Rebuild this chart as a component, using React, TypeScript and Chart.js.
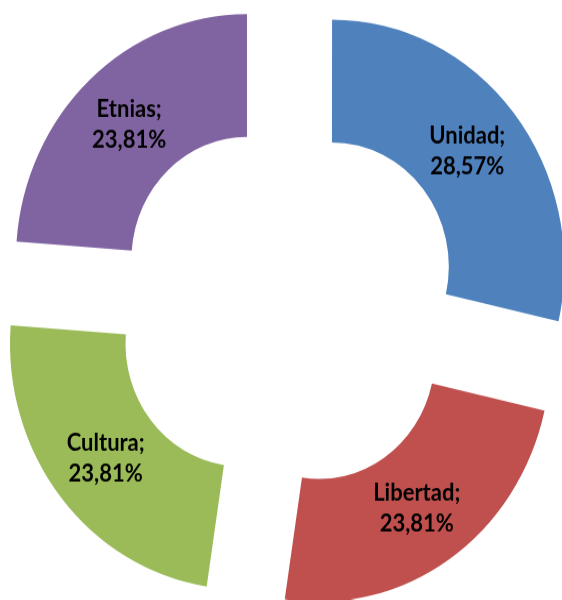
import React, { useEffect, useRef } from 'react';
import { Chart, registerables } from 'chart.js';

Chart.register(...registerables);

const categories = ['Unidad', 'Libertad', 'Cultura', 'Etnias'];
const percentages = [28.57, 23.81, 23.81, 23.81];
const colors = ['#4F81BD', '#C0504D', '#9BBB59', '#8064A2'];

const STRETCH_Y = 1.063;
const CANVAS_W = 562;
const CANVAS_H = 564;

const sliceLabels = {
  id: 'sliceLabels',
  afterDatasetsDraw(chart: any) {
    const ctx = chart.ctx;
    const meta = chart.getDatasetMeta(0);
    ctx.save();
    ctx.font = 'bold 22px Lato';
    ctx.fillStyle = '#000000';
    ctx.textAlign = 'center';
    ctx.textBaseline = 'middle';
    meta.data.forEach((arc: any, i: number) => {
      const p = arc.getProps(['x', 'y', 'startAngle', 'endAngle', 'innerRadius', 'outerRadius'], true);
      const off = (arc.options.offset || 0) / 4;
      const mid = (p.startAngle + p.endAngle) / 2;
      const r = (p.innerRadius + p.outerRadius) / 2 + off;
      const lx = p.x + Math.cos(mid) * r;
      const ly = p.y + Math.sin(mid) * r;
      const lh = 29;
      ctx.fillText(categories[i] + ';', lx, ly - lh / 2);
      ctx.fillText(percentages[i].toFixed(2).replace('.', ',') + '%', lx, ly + lh / 2);
    });
    ctx.restore();
  },
};

export default function App() {
  const ref = useRef<HTMLCanvasElement | null>(null);

  useEffect(() => {
    if (!ref.current) return;
    const chart = new Chart(ref.current, {
      type: 'doughnut',
      data: {
        labels: categories,
        datasets: [
          {
            data: percentages,
            backgroundColor: colors,
            borderWidth: 0,
            offset: 232,
          },
        ],
      },
      options: {
        responsive: false,
        animation: false,
        events: [],
        cutout: '50%',
        radius: 231,
        layout: { padding: { left: 11, top: 10, right: 0, bottom: 0 } },
        plugins: {
          legend: { display: false },
          tooltip: { enabled: false },
        },
      },
      plugins: [sliceLabels],
    } as any);
    return () => chart.destroy();
  }, []);

  return (
    <div
      style={{
        position: 'fixed',
        left: 0,
        top: 0,
        width: 562,
        height: 600,
        overflow: 'hidden',
        background: '#ffffff',
      }}
    >
      <div
        style={{
          width: CANVAS_W,
          height: CANVAS_H,
          transform: `scaleY(${STRETCH_Y})`,
          transformOrigin: '0 0',
        }}
      >
        <canvas ref={ref} width={CANVAS_W} height={CANVAS_H} />
      </div>
    </div>
  );
}
